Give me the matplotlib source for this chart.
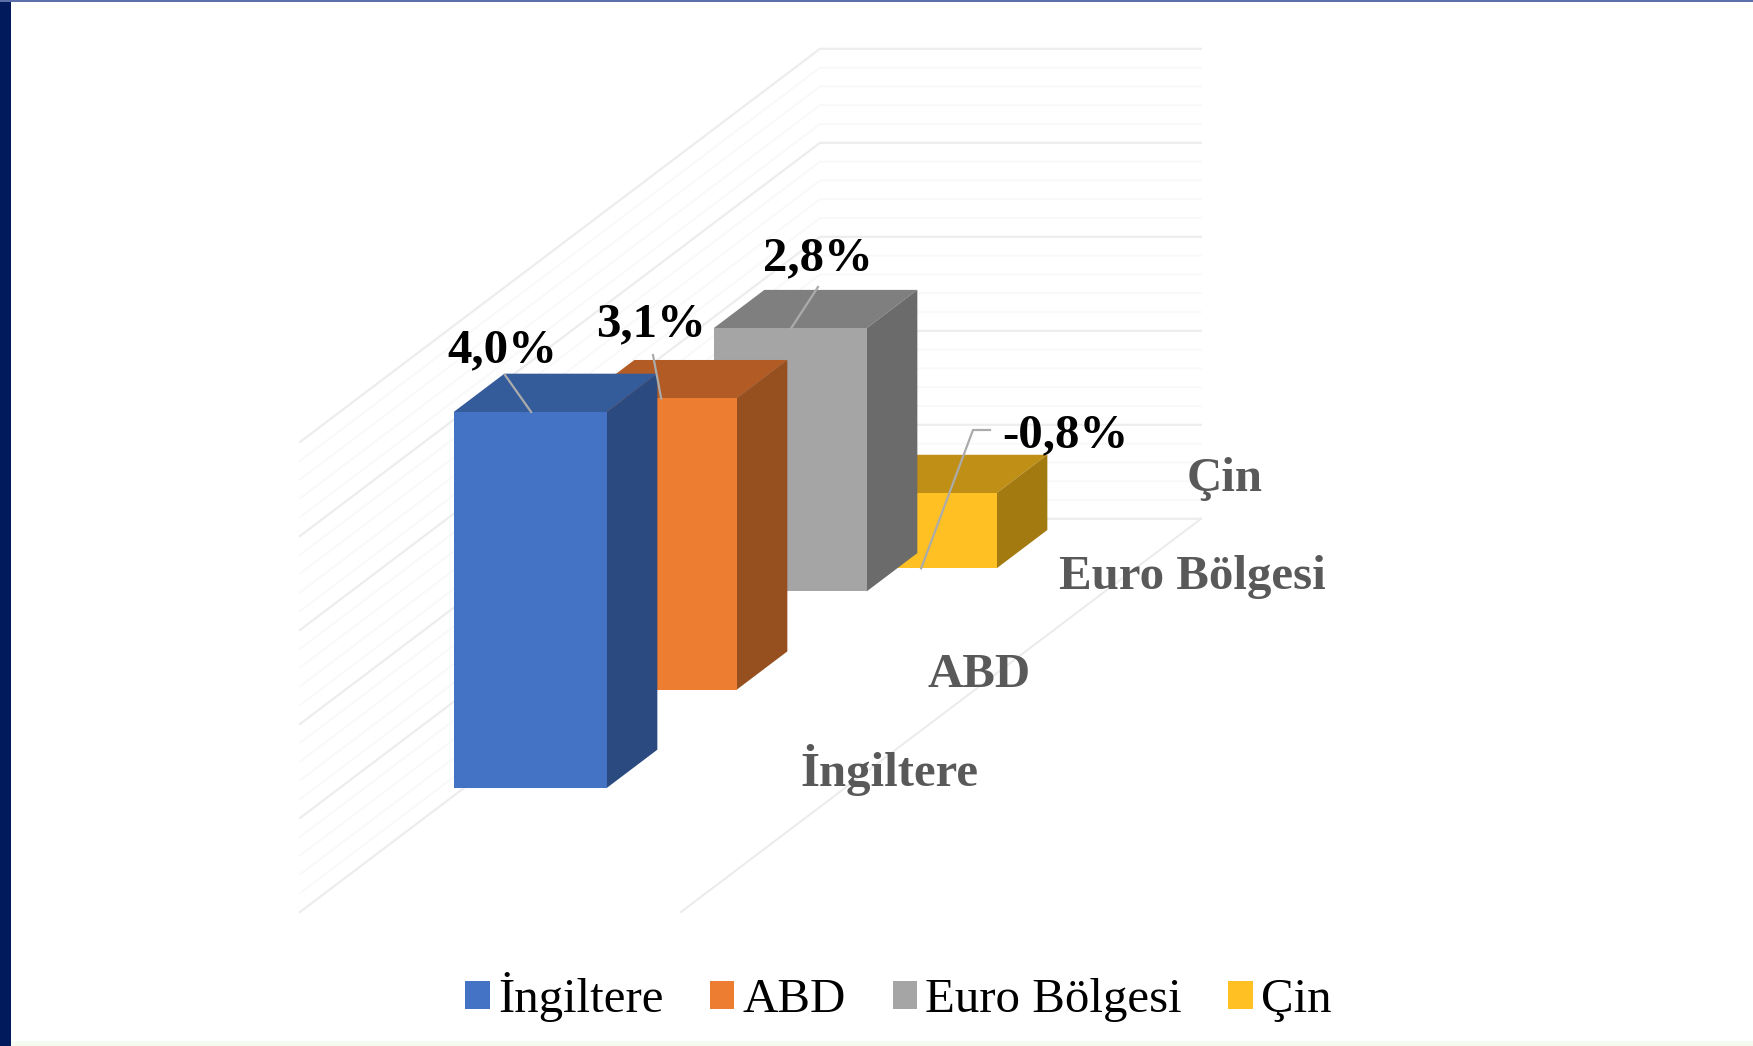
import matplotlib.pyplot as plt
from matplotlib.patches import Polygon, Patch, Rectangle

plt.rcParams['font.family'] = ['Liberation Serif', 'DejaVu Sans']

# Data
categories = ['İngiltere', 'ABD', 'Euro Bölgesi', 'Çin']
values = [4.0, 3.1, 2.8, -0.8]
value_labels = ['4,0%', '3,1%', '2,8%', '-0,8%']
axis_min = -1.0
axis_max = 4.0
grid_step = 0.2

# Colours: front, top, side
front_colors = ['#4472C4', '#ED7D31', '#A5A5A5', '#FFC024']
top_colors = ['#345B9A', '#B35B24', '#7F7F7F', '#C09016']
side_colors = ['#2A4A80', '#964F1F', '#6B6B6B', '#A37A10']

# Oblique 3D layout, in pixels of the output image
x0 = 300
y0 = 818
unit_y = 94
depth_dx = 130.0
depth_dy = 98.3
wall_width = 381
bar_left = 114
bar_width = 153
bar_depth = 0.39


def project(x, depth, value):
    return (x0 + x + depth * depth_dx, y0 - value * unit_y - depth * depth_dy)


fig = plt.figure(figsize=(17.53, 10.46), dpi=100)
ax = fig.add_axes([0, 0, 1, 1])
ax.set_xlim(0, 1753)
ax.set_ylim(1046, 0)
ax.axis('off')

# Page frame
ax.add_patch(Rectangle((0, 0), 11, 1046, color='#001A5C', lw=0, zorder=6))
ax.add_patch(Rectangle((0, 0), 1753, 1.5, color='#5C6FA8', lw=0, zorder=6))
ax.add_patch(Rectangle((11, 1041), 1742, 5, color='#F6FBF2', lw=0, zorder=6))

# Walls
n_depth = len(categories)
n_grid = int(round((axis_max - axis_min) / grid_step))
for i in range(n_grid + 1):
    v = axis_min + i * grid_step
    major = abs(v - round(v)) < 1e-6
    color = '#EDEDED' if major else '#F8F8F8'
    lw = 1.6 if major else 1.2
    a = project(0, 0, v)
    b = project(0, n_depth, v)
    c = project(wall_width, n_depth, v)
    ax.plot([a[0], b[0], c[0]], [a[1], b[1], c[1]], color=color, lw=lw, zorder=1)

# Floor edge on the right
a = project(wall_width, 0, axis_min)
b = project(wall_width, n_depth, axis_min)
ax.plot([a[0], b[0]], [a[1], b[1]], color='#EBEBEB', lw=1.4, zorder=1)

# Bars, back to front
for i in reversed(range(len(values))):
    d1 = i + 0.5 - bar_depth / 2
    d2 = i + 0.5 + bar_depth / 2
    left = bar_left
    right = bar_left + bar_width
    hi = max(values[i], 0)
    lo = min(values[i], 0)
    front = [project(left, d1, hi), project(right, d1, hi), project(right, d1, lo), project(left, d1, lo)]
    top = [project(left, d1, hi), project(right, d1, hi), project(right, d2, hi), project(left, d2, hi)]
    side = [project(right, d1, hi), project(right, d2, hi), project(right, d2, lo), project(right, d1, lo)]
    z = 2 + (len(values) - i)
    ax.add_patch(Polygon(top, closed=True, fc=top_colors[i], ec='none', zorder=z))
    ax.add_patch(Polygon(side, closed=True, fc=side_colors[i], ec='none', zorder=z))
    ax.add_patch(Polygon(front, closed=True, fc=front_colors[i], ec='none', zorder=z))

# Leader lines
leader_ends = [[(505, 375)], [(653, 355)], [(818, 287)], [(973, 430), (990, 430)]]
for i in range(len(values)):
    d1 = i + 0.5 - bar_depth / 2
    anchor = project(bar_left + bar_width / 2, d1, values[i])
    xs = [anchor[0] + 1] + [p[0] for p in leader_ends[i]]
    ys = [anchor[1]] + [p[1] for p in leader_ends[i]]
    ax.plot(xs, ys, color='#ABABAB', lw=1.6, zorder=10)

# Data labels
label_pos = [(502, 350), (651, 324), (818, 258), (1065, 435)]
for text, pos in zip(value_labels, label_pos):
    ax.text(pos[0], pos[1], text, ha='center', va='center', fontsize=35.2,
            fontweight='bold', color='black', zorder=11)

# Category labels
cat_pos = [(889, 770), (979, 675), (1192, 577), (1225, 479)]
for text, pos in zip(categories, cat_pos):
    ax.text(pos[0], pos[1], text, ha='center', va='center', fontsize=35.2,
            fontweight='bold', color='#595959', zorder=11)

# Legend
handles = [Patch(facecolor=c, edgecolor='none', label=n) for c, n in zip(front_colors, categories)]
fig.legend(handles=handles, loc='center', bbox_to_anchor=(898.5 / 1753, 1 - 997 / 1046), ncol=4,
           frameon=False, fontsize=35.2, handlelength=0.5, handleheight=0.5,
           handletextpad=0.17, columnspacing=0.95, borderpad=0, borderaxespad=0)

fig.savefig('out.png', dpi=100)
